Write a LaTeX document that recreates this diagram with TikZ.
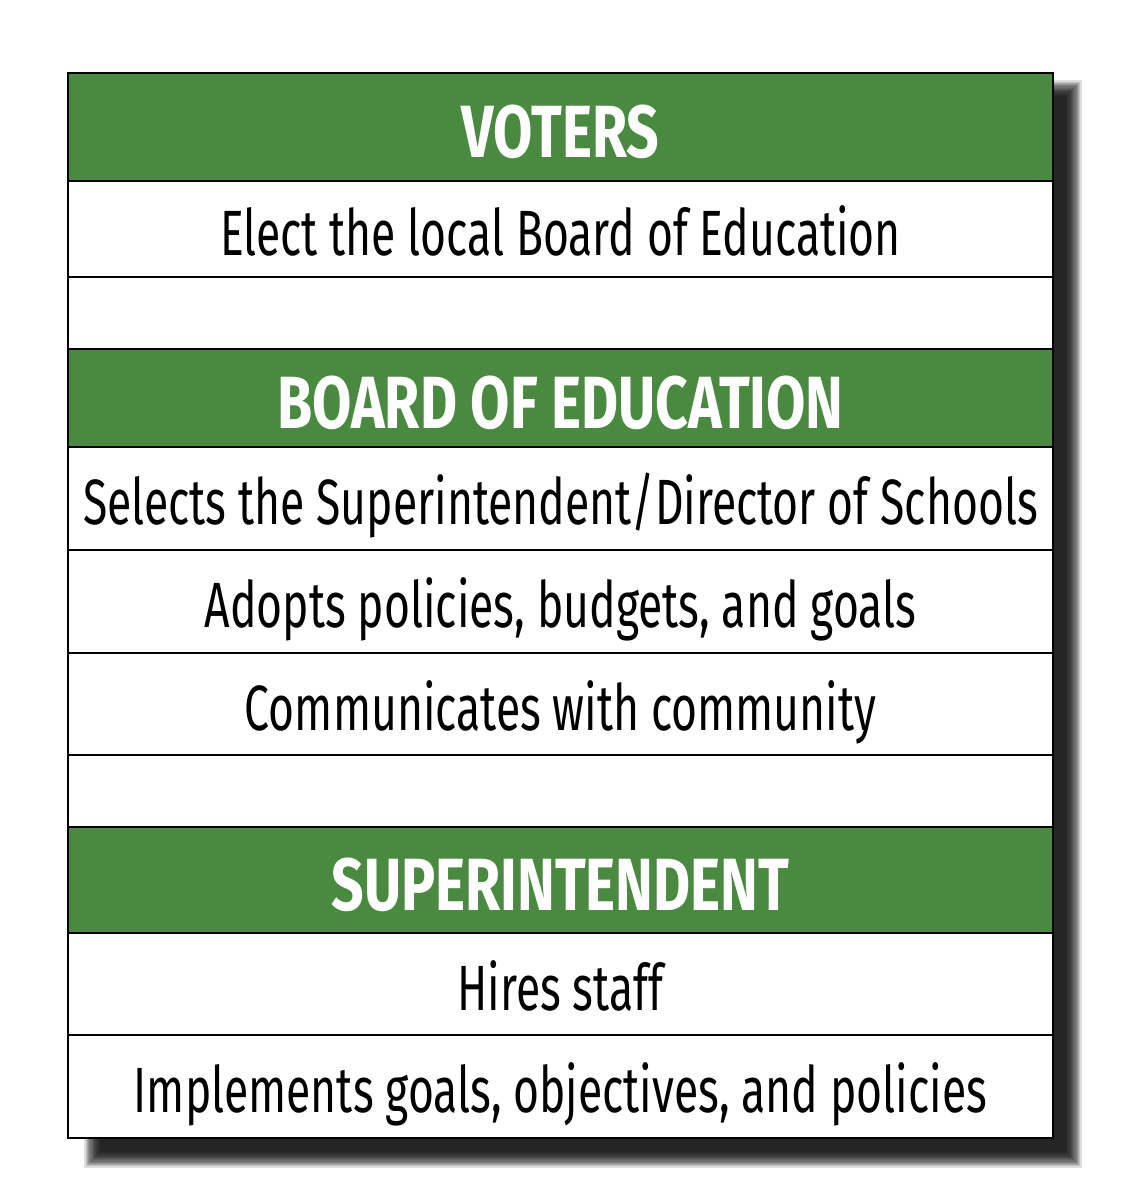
\documentclass[tikz,border=0pt]{standalone}
\usepackage{xcolor}
\usepackage{fontspec}
\setmainfont{Fira Sans}[FakeStretch=0.695]
\newfontfamily\headfont{Fira Sans}[FakeStretch=0.77]
\usepackage{tikz}
\usetikzlibrary{
  positioning
}

\definecolor{headgreen}{HTML}{4A8A40}

\begin{document}
\begin{tikzpicture}[x=1pt,y=-1pt,
  cell/.style={draw=black, line width=2pt, fill=white, outer sep=0pt, inner sep=0pt,
    minimum width=985pt, text height=52pt, text depth=0pt,
    font=\fontsize{64}{70}\selectfont},
  head/.style={cell, fill=headgreen, text=white, text height=61pt,
    font=\fontsize{74}{80}\headfont\bfseries}]
  \useasboundingbox (0,0) rectangle (1147,1200);

  % ぼかした影
  \foreach \i in {0,...,13} {
    \fill[black, opacity=0.13]
      ({92+8-1.2*\i},{88+8-1.2*\i}) rectangle ({1074-8+1.2*\i},{1160-8+1.2*\i});
  }

  % 有権者
  \node[head, minimum height=108pt] (voters) at (560.5,127) {VOTERS};
  \node[cell, minimum height=96pt, below=0pt of voters] (elect) {Elect the local Board of Education};
  \node[cell, minimum height=72pt, below=0pt of elect] (gapa) {};

  % 教育委員会
  \node[head, minimum height=98pt, below=0pt of gapa] (board) {BOARD OF EDUCATION};
  \node[cell, minimum height=103pt, below=0pt of board] (selects) {Selects the Superintendent/Director of Schools};
  \node[cell, minimum height=103pt, below=0pt of selects] (adopts) {Adopts policies, budgets, and goals};
  \node[cell, minimum height=102pt, below=0pt of adopts] (comm) {Communicates with community};
  \node[cell, minimum height=72pt, below=0pt of comm] (gapb) {};

  % 教育長
  \node[head, minimum height=106pt, below=0pt of gapb] (super) {SUPERINTENDENT};
  \node[cell, minimum height=102pt, below=0pt of super] (hires) {Hires staff};
  \node[cell, minimum height=103pt, below=0pt of hires] (impl) {Implements goals, objectives, and policies};
\end{tikzpicture}
\end{document}
